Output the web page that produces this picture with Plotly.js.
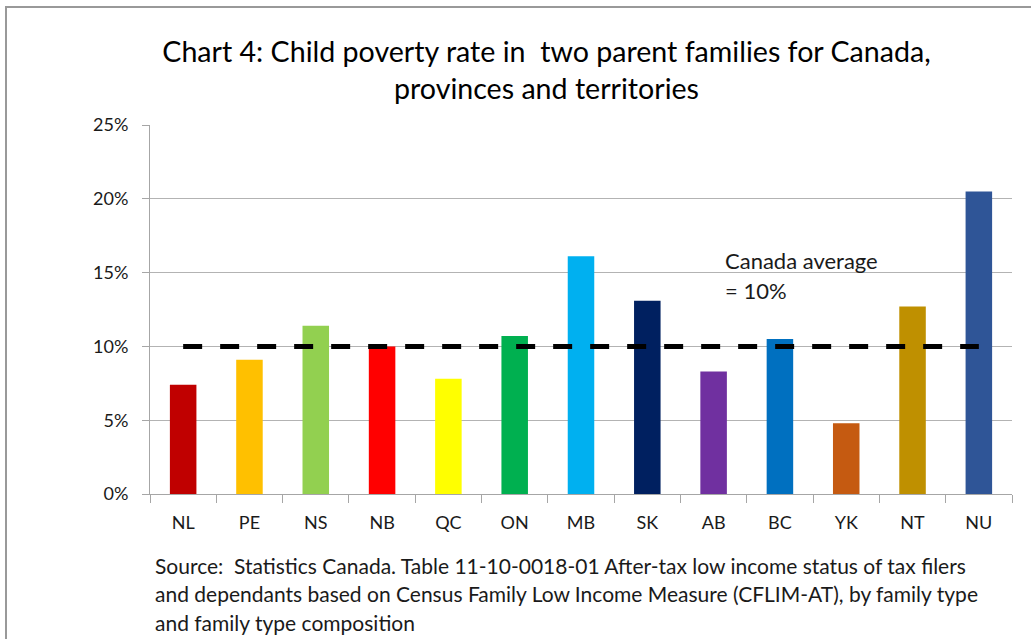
<!DOCTYPE html>
<html>
<head>
<meta charset="utf-8">
<script src="https://cdn.plot.ly/plotly-3.0.1.min.js"></script>
<style>
  html, body { margin: 0; padding: 0; background: #fff; }
  #wrap { position: relative; width: 1031px; height: 639px; overflow: hidden; }
  #chart { position: absolute; left: 0; top: 0; width: 1031px; height: 639px; }
  #frame { position: absolute; left: 5px; top: 6px; width: 1100px; height: 700px;
           border-left: 2px solid #999; border-top: 2px solid #999; pointer-events: none; }
</style>
</head>
<body>
<div id="wrap">
  <div id="chart"></div>
  <div id="frame"></div>
</div>
<script>
// ---- data ----
const categories = ["NL", "PE", "NS", "NB", "QC", "ON", "MB", "SK", "AB", "BC", "YK", "NT", "NU"];
const povertyRate = [0.074, 0.091, 0.114, 0.100, 0.078, 0.107, 0.161, 0.131, 0.083, 0.105, 0.048, 0.127, 0.205];
const barColors = ["#C00000", "#FFC000", "#92D050", "#FF0000", "#FFFF00", "#00B050", "#00B0F0",
                   "#002060", "#7030A0", "#0070C0", "#C55A11", "#BF9000", "#2F5597"];
const canadaAverage = 0.10;
const yTickValues = [0, 0.05, 0.10, 0.15, 0.20, 0.25];
const yTickLabels = ["0%", "5%", "10%", "15%", "20%", "25%"];
const titleText = "Chart 4: Child poverty rate in  two parent families for Canada,<br>provinces and territories";
const averageLabel = ["Canada average", "= 10%"];
const sourceLines = [
  "Source:  Statistics Canada. Table 11-10-0018-01 After-tax low income status of tax filers",
  "and dependants based on Census Family Low Income Measure (CFLIM-AT), by family type",
  "and family type composition"
];

// ---- layout helpers ----
const W = 1031, H = 639;
const M = { l: 150, r: 19, t: 125, b: 145 };
const plotW = W - M.l - M.r, plotH = H - M.t - M.b;
const px2paperX = px => (px - M.l) / plotW;
const px2paperY = py => (H - M.b - py) / plotH;
const FONT = "Lato, 'Open Sans', sans-serif";
const TXT = "#1a1a1a";

const traces = [
  {
    type: "bar",
    x: categories,
    y: povertyRate,
    marker: { color: barColors, line: { width: 0 } },
    hoverinfo: "x+y",
    showlegend: false
  },
  {
    type: "scatter",
    mode: "lines",
    x: categories,
    y: categories.map(() => canadaAverage),
    line: { color: "#000", width: 5, dash: "19px,18px" },
    hoverinfo: "skip",
    showlegend: false
  }
];

const annotations = [];
averageLabel.forEach((t, i) => {
  annotations.push({
    text: t, xref: "paper", yref: "paper",
    x: px2paperX(723), y: px2paperY([260, 290.5][i]),
    xanchor: "left", yanchor: "middle", showarrow: false,
    font: { family: FONT, size: 22, color: TXT }
  });
});
sourceLines.forEach((t, i) => {
  annotations.push({
    text: t, xref: "paper", yref: "paper",
    x: px2paperX(153), y: px2paperY(565 + i * 28.5),
    xanchor: "left", yanchor: "middle", showarrow: false, align: "left",
    font: { family: FONT, size: 21, color: TXT }
  });
});

const layout = {
  width: W, height: H,
  margin: M,
  paper_bgcolor: "rgba(0,0,0,0)",
  plot_bgcolor: "rgba(0,0,0,0)",
  font: { family: FONT, size: 18, color: TXT },
  title: {
    text: titleText,
    font: { family: FONT, size: 28.6, color: "#000" },
    xref: "container", yref: "container",
    x: 546.5 / W, xanchor: "center",
    y: 1 - 62 / H, yanchor: "middle"
  },
  bargap: 0.6,
  xaxis: {
    type: "category",
    showgrid: false,
    showline: true, linecolor: "#A6A6A6", linewidth: 1,
    ticks: "outside", tickson: "boundaries", ticklen: 8, tickcolor: "#A6A6A6",
    ticklabelstandoff: 12,
    tickfont: { family: FONT, size: 18, color: TXT },
    fixedrange: true
  },
  yaxis: {
    range: [0, 0.25],
    tickvals: yTickValues, ticktext: yTickLabels,
    showgrid: true, gridcolor: "#B3B3B3", gridwidth: 1,
    zeroline: false,
    showline: true, linecolor: "#A6A6A6", linewidth: 1,
    ticks: "outside", ticklen: 7, tickcolor: "#A6A6A6",
    ticklabelstandoff: 10,
    tickfont: { family: FONT, size: 18, color: TXT },
    fixedrange: true
  },
  annotations: annotations
};

Plotly.newPlot("chart", traces, layout, { displayModeBar: false, staticPlot: true });
</script>
</body>
</html>
